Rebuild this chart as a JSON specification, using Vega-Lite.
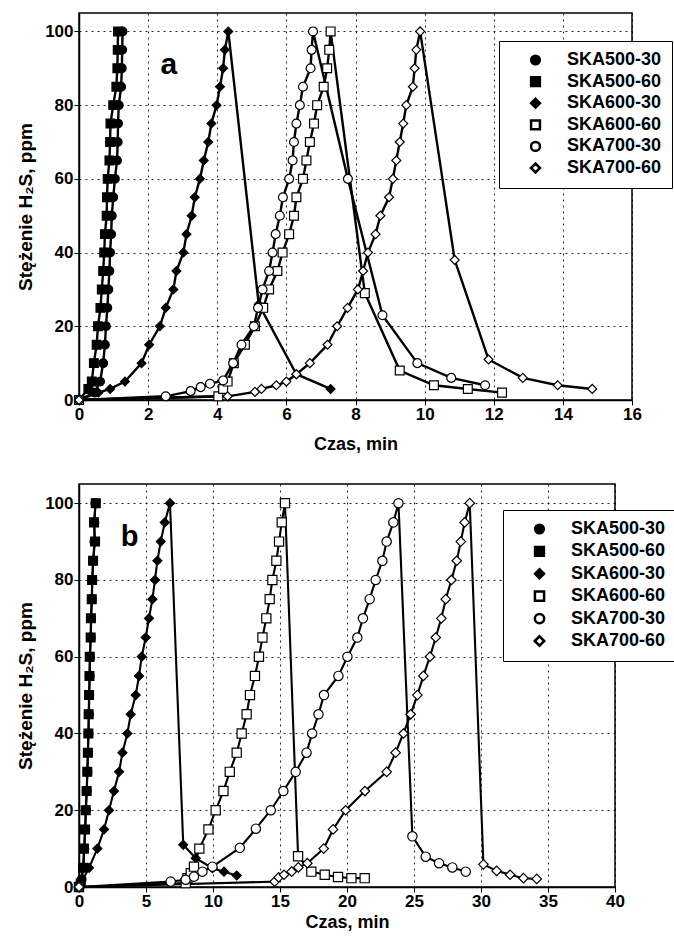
{
  "$schema": "https://vega.github.io/schema/vega-lite/v6.json",
  "background": "white",
  "padding": {"left": 15, "top": 12, "right": 0, "bottom": 5},
  "spacing": 29,
  "config": {
    "font": "Liberation Sans",
    "view": {"stroke": "black", "strokeWidth": 1.5},
    "axis": {
      "labelFont": "Liberation Sans", "labelFontSize": 17, "labelFontWeight": "bold", "labelColor": "black", "labelFlush": false,
      "titleFont": "Liberation Sans", "titleFontSize": 18, "titleFontWeight": "bold", "titleColor": "black",
      "domainColor": "black", "domainWidth": 1.5, "tickColor": "black", "tickSize": 5,
      "gridColor": "black", "gridDash": [2, 4], "gridOpacity": 0.85, "gridWidth": 1, "labelPadding": 1
    },
    "axisY": {"titleFontSize": 19},
    "legend": {
      "labelFont": "Liberation Sans", "labelFontSize": 18, "labelFontWeight": "bold", "labelColor": "black",
      "fillColor": "white", "strokeColor": "black", "padding": 10, "rowPadding": 2,
      "symbolOffset": 17.5, "labelOffset": 22.5
    }
  },
  "datasets": {
    "a": [
      {"s": "SKA500-30", "x": 0, "y": 0}, {"s": "SKA500-30", "x": 0.45, "y": 2}, {"s": "SKA500-30", "x": 0.61, "y": 5}, {"s": "SKA500-30", "x": 0.70, "y": 10}, {"s": "SKA500-30", "x": 0.75, "y": 15}, {"s": "SKA500-30", "x": 0.78, "y": 20}, {"s": "SKA500-30", "x": 0.82, "y": 25}, {"s": "SKA500-30", "x": 0.85, "y": 30}, {"s": "SKA500-30", "x": 0.88, "y": 35}, {"s": "SKA500-30", "x": 0.90, "y": 40}, {"s": "SKA500-30", "x": 0.93, "y": 45}, {"s": "SKA500-30", "x": 0.95, "y": 50}, {"s": "SKA500-30", "x": 0.99, "y": 55}, {"s": "SKA500-30", "x": 1.04, "y": 60}, {"s": "SKA500-30", "x": 1.10, "y": 65}, {"s": "SKA500-30", "x": 1.12, "y": 70}, {"s": "SKA500-30", "x": 1.13, "y": 75}, {"s": "SKA500-30", "x": 1.15, "y": 80}, {"s": "SKA500-30", "x": 1.22, "y": 85}, {"s": "SKA500-30", "x": 1.24, "y": 90}, {"s": "SKA500-30", "x": 1.25, "y": 95}, {"s": "SKA500-30", "x": 1.26, "y": 100},
      {"s": "SKA500-60", "x": 0, "y": 0}, {"s": "SKA500-60", "x": 0.27, "y": 3}, {"s": "SKA500-60", "x": 0.37, "y": 5}, {"s": "SKA500-60", "x": 0.43, "y": 10}, {"s": "SKA500-60", "x": 0.51, "y": 15}, {"s": "SKA500-60", "x": 0.55, "y": 20}, {"s": "SKA500-60", "x": 0.62, "y": 25}, {"s": "SKA500-60", "x": 0.66, "y": 30}, {"s": "SKA500-60", "x": 0.70, "y": 35}, {"s": "SKA500-60", "x": 0.73, "y": 40}, {"s": "SKA500-60", "x": 0.75, "y": 45}, {"s": "SKA500-60", "x": 0.80, "y": 50}, {"s": "SKA500-60", "x": 0.81, "y": 55}, {"s": "SKA500-60", "x": 0.83, "y": 60}, {"s": "SKA500-60", "x": 0.88, "y": 65}, {"s": "SKA500-60", "x": 0.90, "y": 70}, {"s": "SKA500-60", "x": 0.91, "y": 75}, {"s": "SKA500-60", "x": 0.99, "y": 80}, {"s": "SKA500-60", "x": 1.08, "y": 85}, {"s": "SKA500-60", "x": 1.11, "y": 90}, {"s": "SKA500-60", "x": 1.12, "y": 95}, {"s": "SKA500-60", "x": 1.13, "y": 100},
      {"s": "SKA600-30", "x": 0, "y": 0}, {"s": "SKA600-30", "x": 0.56, "y": 2}, {"s": "SKA600-30", "x": 0.9, "y": 3}, {"s": "SKA600-30", "x": 1.33, "y": 5}, {"s": "SKA600-30", "x": 1.81, "y": 10}, {"s": "SKA600-30", "x": 2.03, "y": 15}, {"s": "SKA600-30", "x": 2.34, "y": 20}, {"s": "SKA600-30", "x": 2.51, "y": 25}, {"s": "SKA600-30", "x": 2.73, "y": 30}, {"s": "SKA600-30", "x": 2.82, "y": 35}, {"s": "SKA600-30", "x": 3.02, "y": 40}, {"s": "SKA600-30", "x": 3.11, "y": 45}, {"s": "SKA600-30", "x": 3.26, "y": 50}, {"s": "SKA600-30", "x": 3.35, "y": 55}, {"s": "SKA600-30", "x": 3.50, "y": 60}, {"s": "SKA600-30", "x": 3.61, "y": 65}, {"s": "SKA600-30", "x": 3.74, "y": 70}, {"s": "SKA600-30", "x": 3.83, "y": 75}, {"s": "SKA600-30", "x": 3.98, "y": 80}, {"s": "SKA600-30", "x": 4.08, "y": 85}, {"s": "SKA600-30", "x": 4.17, "y": 90}, {"s": "SKA600-30", "x": 4.22, "y": 95}, {"s": "SKA600-30", "x": 4.32, "y": 100}, {"s": "SKA600-30", "x": 5.2, "y": 26}, {"s": "SKA600-30", "x": 6.29, "y": 7}, {"s": "SKA600-30", "x": 7.28, "y": 3},
      {"s": "SKA600-60", "x": 0, "y": 0}, {"s": "SKA600-60", "x": 4.03, "y": 1}, {"s": "SKA600-60", "x": 4.17, "y": 3}, {"s": "SKA600-60", "x": 4.30, "y": 5}, {"s": "SKA600-60", "x": 4.48, "y": 10}, {"s": "SKA600-60", "x": 4.80, "y": 15}, {"s": "SKA600-60", "x": 5.09, "y": 20}, {"s": "SKA600-60", "x": 5.33, "y": 25}, {"s": "SKA600-60", "x": 5.50, "y": 30}, {"s": "SKA600-60", "x": 5.74, "y": 35}, {"s": "SKA600-60", "x": 5.89, "y": 40}, {"s": "SKA600-60", "x": 6.08, "y": 45}, {"s": "SKA600-60", "x": 6.22, "y": 50}, {"s": "SKA600-60", "x": 6.29, "y": 55}, {"s": "SKA600-60", "x": 6.48, "y": 60}, {"s": "SKA600-60", "x": 6.58, "y": 65}, {"s": "SKA600-60", "x": 6.68, "y": 70}, {"s": "SKA600-60", "x": 6.80, "y": 75}, {"s": "SKA600-60", "x": 6.89, "y": 80}, {"s": "SKA600-60", "x": 7.08, "y": 85}, {"s": "SKA600-60", "x": 7.18, "y": 90}, {"s": "SKA600-60", "x": 7.24, "y": 95}, {"s": "SKA600-60", "x": 7.28, "y": 100}, {"s": "SKA600-60", "x": 8.27, "y": 29}, {"s": "SKA600-60", "x": 9.28, "y": 8}, {"s": "SKA600-60", "x": 10.27, "y": 4}, {"s": "SKA600-60", "x": 11.25, "y": 3}, {"s": "SKA600-60", "x": 12.24, "y": 2},
      {"s": "SKA700-30", "x": 0, "y": 0}, {"s": "SKA700-30", "x": 2.51, "y": 1}, {"s": "SKA700-30", "x": 3.23, "y": 2.4}, {"s": "SKA700-30", "x": 3.52, "y": 3.5}, {"s": "SKA700-30", "x": 3.79, "y": 4.4}, {"s": "SKA700-30", "x": 4.17, "y": 5.3}, {"s": "SKA700-30", "x": 4.46, "y": 10}, {"s": "SKA700-30", "x": 4.70, "y": 15}, {"s": "SKA700-30", "x": 5.06, "y": 20}, {"s": "SKA700-30", "x": 5.18, "y": 25}, {"s": "SKA700-30", "x": 5.31, "y": 30}, {"s": "SKA700-30", "x": 5.50, "y": 35}, {"s": "SKA700-30", "x": 5.60, "y": 40}, {"s": "SKA700-30", "x": 5.69, "y": 45}, {"s": "SKA700-30", "x": 5.81, "y": 50}, {"s": "SKA700-30", "x": 5.90, "y": 55}, {"s": "SKA700-30", "x": 6.08, "y": 60}, {"s": "SKA700-30", "x": 6.18, "y": 65}, {"s": "SKA700-30", "x": 6.22, "y": 70}, {"s": "SKA700-30", "x": 6.29, "y": 75}, {"s": "SKA700-30", "x": 6.39, "y": 80}, {"s": "SKA700-30", "x": 6.48, "y": 85}, {"s": "SKA700-30", "x": 6.70, "y": 90}, {"s": "SKA700-30", "x": 6.73, "y": 95}, {"s": "SKA700-30", "x": 6.77, "y": 100}, {"s": "SKA700-30", "x": 7.78, "y": 60}, {"s": "SKA700-30", "x": 8.78, "y": 23}, {"s": "SKA700-30", "x": 9.79, "y": 10}, {"s": "SKA700-30", "x": 10.77, "y": 6}, {"s": "SKA700-30", "x": 11.75, "y": 4},
      {"s": "SKA700-60", "x": 0, "y": 0}, {"s": "SKA700-60", "x": 4.30, "y": 1}, {"s": "SKA700-60", "x": 5.09, "y": 2.2}, {"s": "SKA700-60", "x": 5.28, "y": 3}, {"s": "SKA700-60", "x": 5.71, "y": 4}, {"s": "SKA700-60", "x": 6.0, "y": 5}, {"s": "SKA700-60", "x": 6.29, "y": 7}, {"s": "SKA700-60", "x": 6.68, "y": 10}, {"s": "SKA700-60", "x": 7.19, "y": 15}, {"s": "SKA700-60", "x": 7.47, "y": 20}, {"s": "SKA700-60", "x": 7.77, "y": 25}, {"s": "SKA700-60", "x": 8.07, "y": 30}, {"s": "SKA700-60", "x": 8.22, "y": 35}, {"s": "SKA700-60", "x": 8.36, "y": 40}, {"s": "SKA700-60", "x": 8.58, "y": 45}, {"s": "SKA700-60", "x": 8.72, "y": 50}, {"s": "SKA700-60", "x": 8.97, "y": 55}, {"s": "SKA700-60", "x": 9.08, "y": 60}, {"s": "SKA700-60", "x": 9.18, "y": 65}, {"s": "SKA700-60", "x": 9.28, "y": 70}, {"s": "SKA700-60", "x": 9.38, "y": 75}, {"s": "SKA700-60", "x": 9.47, "y": 80}, {"s": "SKA700-60", "x": 9.66, "y": 85}, {"s": "SKA700-60", "x": 9.71, "y": 90}, {"s": "SKA700-60", "x": 9.76, "y": 95}, {"s": "SKA700-60", "x": 9.87, "y": 100}, {"s": "SKA700-60", "x": 10.87, "y": 38}, {"s": "SKA700-60", "x": 11.85, "y": 11}, {"s": "SKA700-60", "x": 12.84, "y": 6}, {"s": "SKA700-60", "x": 13.85, "y": 4}, {"s": "SKA700-60", "x": 14.85, "y": 3}
    ],
    "b": [
      {"s": "SKA500-30", "x": 0, "y": 0}, {"s": "SKA500-30", "x": 0.2, "y": 2}, {"s": "SKA500-30", "x": 0.33, "y": 5}, {"s": "SKA500-30", "x": 0.40, "y": 10}, {"s": "SKA500-30", "x": 0.47, "y": 15}, {"s": "SKA500-30", "x": 0.52, "y": 20}, {"s": "SKA500-30", "x": 0.58, "y": 25}, {"s": "SKA500-30", "x": 0.63, "y": 30}, {"s": "SKA500-30", "x": 0.67, "y": 35}, {"s": "SKA500-30", "x": 0.71, "y": 40}, {"s": "SKA500-30", "x": 0.74, "y": 45}, {"s": "SKA500-30", "x": 0.77, "y": 50}, {"s": "SKA500-30", "x": 0.80, "y": 55}, {"s": "SKA500-30", "x": 0.83, "y": 60}, {"s": "SKA500-30", "x": 0.88, "y": 65}, {"s": "SKA500-30", "x": 0.91, "y": 70}, {"s": "SKA500-30", "x": 0.96, "y": 75}, {"s": "SKA500-30", "x": 1.0, "y": 80}, {"s": "SKA500-30", "x": 1.06, "y": 85}, {"s": "SKA500-30", "x": 1.15, "y": 90}, {"s": "SKA500-30", "x": 1.15, "y": 95}, {"s": "SKA500-30", "x": 1.22, "y": 100},
      {"s": "SKA500-60", "x": 0, "y": 0}, {"s": "SKA500-60", "x": 0.13, "y": 1}, {"s": "SKA500-60", "x": 0.30, "y": 5}, {"s": "SKA500-60", "x": 0.37, "y": 10}, {"s": "SKA500-60", "x": 0.45, "y": 15}, {"s": "SKA500-60", "x": 0.50, "y": 20}, {"s": "SKA500-60", "x": 0.57, "y": 25}, {"s": "SKA500-60", "x": 0.62, "y": 30}, {"s": "SKA500-60", "x": 0.66, "y": 35}, {"s": "SKA500-60", "x": 0.70, "y": 40}, {"s": "SKA500-60", "x": 0.72, "y": 45}, {"s": "SKA500-60", "x": 0.75, "y": 50}, {"s": "SKA500-60", "x": 0.78, "y": 55}, {"s": "SKA500-60", "x": 0.80, "y": 60}, {"s": "SKA500-60", "x": 0.87, "y": 65}, {"s": "SKA500-60", "x": 0.89, "y": 70}, {"s": "SKA500-60", "x": 0.95, "y": 75}, {"s": "SKA500-60", "x": 0.98, "y": 80}, {"s": "SKA500-60", "x": 1.05, "y": 85}, {"s": "SKA500-60", "x": 1.20, "y": 90}, {"s": "SKA500-60", "x": 1.12, "y": 95}, {"s": "SKA500-60", "x": 1.25, "y": 100},
      {"s": "SKA600-30", "x": 0, "y": 0}, {"s": "SKA600-30", "x": 0.75, "y": 5}, {"s": "SKA600-30", "x": 1.37, "y": 10}, {"s": "SKA600-30", "x": 1.87, "y": 15}, {"s": "SKA600-30", "x": 2.24, "y": 20}, {"s": "SKA600-30", "x": 2.61, "y": 25}, {"s": "SKA600-30", "x": 2.99, "y": 30}, {"s": "SKA600-30", "x": 3.24, "y": 35}, {"s": "SKA600-30", "x": 3.61, "y": 40}, {"s": "SKA600-30", "x": 3.86, "y": 45}, {"s": "SKA600-30", "x": 4.23, "y": 50}, {"s": "SKA600-30", "x": 4.48, "y": 55}, {"s": "SKA600-30", "x": 4.68, "y": 60}, {"s": "SKA600-30", "x": 4.98, "y": 65}, {"s": "SKA600-30", "x": 5.22, "y": 70}, {"s": "SKA600-30", "x": 5.48, "y": 75}, {"s": "SKA600-30", "x": 5.67, "y": 80}, {"s": "SKA600-30", "x": 5.85, "y": 85}, {"s": "SKA600-30", "x": 6.10, "y": 90}, {"s": "SKA600-30", "x": 6.40, "y": 95}, {"s": "SKA600-30", "x": 6.79, "y": 100}, {"s": "SKA600-30", "x": 7.78, "y": 11}, {"s": "SKA600-30", "x": 8.71, "y": 7.5}, {"s": "SKA600-30", "x": 9.96, "y": 4.9}, {"s": "SKA600-30", "x": 10.82, "y": 4}, {"s": "SKA600-30", "x": 11.77, "y": 3},
      {"s": "SKA600-60", "x": 0, "y": 0}, {"s": "SKA600-60", "x": 7.96, "y": 1}, {"s": "SKA600-60", "x": 8.09, "y": 2.3}, {"s": "SKA600-60", "x": 8.34, "y": 3.6}, {"s": "SKA600-60", "x": 8.58, "y": 5.3}, {"s": "SKA600-60", "x": 8.98, "y": 10}, {"s": "SKA600-60", "x": 9.66, "y": 15}, {"s": "SKA600-60", "x": 10.20, "y": 20}, {"s": "SKA600-60", "x": 10.78, "y": 25}, {"s": "SKA600-60", "x": 11.25, "y": 30}, {"s": "SKA600-60", "x": 11.77, "y": 35}, {"s": "SKA600-60", "x": 12.14, "y": 40}, {"s": "SKA600-60", "x": 12.51, "y": 45}, {"s": "SKA600-60", "x": 12.76, "y": 50}, {"s": "SKA600-60", "x": 13.13, "y": 55}, {"s": "SKA600-60", "x": 13.43, "y": 60}, {"s": "SKA600-60", "x": 13.69, "y": 65}, {"s": "SKA600-60", "x": 13.98, "y": 70}, {"s": "SKA600-60", "x": 14.23, "y": 75}, {"s": "SKA600-60", "x": 14.43, "y": 80}, {"s": "SKA600-60", "x": 14.73, "y": 85}, {"s": "SKA600-60", "x": 14.93, "y": 90}, {"s": "SKA600-60", "x": 15.13, "y": 95}, {"s": "SKA600-60", "x": 15.37, "y": 100}, {"s": "SKA600-60", "x": 16.35, "y": 8}, {"s": "SKA600-60", "x": 17.34, "y": 4}, {"s": "SKA600-60", "x": 18.34, "y": 3.2}, {"s": "SKA600-60", "x": 19.33, "y": 2.6}, {"s": "SKA600-60", "x": 20.33, "y": 2.3}, {"s": "SKA600-60", "x": 21.32, "y": 2.3},
      {"s": "SKA700-30", "x": 0, "y": 0}, {"s": "SKA700-30", "x": 6.84, "y": 1.4}, {"s": "SKA700-30", "x": 7.96, "y": 1.9}, {"s": "SKA700-30", "x": 8.58, "y": 2.7}, {"s": "SKA700-30", "x": 9.21, "y": 4.0}, {"s": "SKA700-30", "x": 9.96, "y": 5.3}, {"s": "SKA700-30", "x": 12.0, "y": 10.2}, {"s": "SKA700-30", "x": 13.2, "y": 15.2}, {"s": "SKA700-30", "x": 14.31, "y": 20}, {"s": "SKA700-30", "x": 15.25, "y": 25}, {"s": "SKA700-30", "x": 16.17, "y": 30}, {"s": "SKA700-30", "x": 16.98, "y": 35}, {"s": "SKA700-30", "x": 17.4, "y": 40}, {"s": "SKA700-30", "x": 17.87, "y": 45}, {"s": "SKA700-30", "x": 18.28, "y": 50}, {"s": "SKA700-30", "x": 19.36, "y": 55}, {"s": "SKA700-30", "x": 20.03, "y": 60}, {"s": "SKA700-30", "x": 20.77, "y": 65}, {"s": "SKA700-30", "x": 21.19, "y": 70}, {"s": "SKA700-30", "x": 21.69, "y": 75}, {"s": "SKA700-30", "x": 22.14, "y": 80}, {"s": "SKA700-30", "x": 22.64, "y": 85}, {"s": "SKA700-30", "x": 22.96, "y": 90}, {"s": "SKA700-30", "x": 23.46, "y": 95}, {"s": "SKA700-30", "x": 23.84, "y": 100}, {"s": "SKA700-30", "x": 24.88, "y": 13.2}, {"s": "SKA700-30", "x": 25.87, "y": 7.9}, {"s": "SKA700-30", "x": 26.87, "y": 6.2}, {"s": "SKA700-30", "x": 27.86, "y": 5.1}, {"s": "SKA700-30", "x": 28.86, "y": 4.0},
      {"s": "SKA700-60", "x": 0, "y": 0}, {"s": "SKA700-60", "x": 14.6, "y": 1.4}, {"s": "SKA700-60", "x": 14.9, "y": 2.5}, {"s": "SKA700-60", "x": 15.30, "y": 3.2}, {"s": "SKA700-60", "x": 15.87, "y": 4}, {"s": "SKA700-60", "x": 16.37, "y": 5.1}, {"s": "SKA700-60", "x": 17.04, "y": 6.2}, {"s": "SKA700-60", "x": 18.26, "y": 10}, {"s": "SKA700-60", "x": 18.96, "y": 15}, {"s": "SKA700-60", "x": 19.90, "y": 20}, {"s": "SKA700-60", "x": 21.34, "y": 25}, {"s": "SKA700-60", "x": 22.96, "y": 30}, {"s": "SKA700-60", "x": 23.63, "y": 35}, {"s": "SKA700-60", "x": 24.21, "y": 40}, {"s": "SKA700-60", "x": 24.75, "y": 45}, {"s": "SKA700-60", "x": 25.25, "y": 50}, {"s": "SKA700-60", "x": 25.70, "y": 55}, {"s": "SKA700-60", "x": 26.19, "y": 60}, {"s": "SKA700-60", "x": 26.62, "y": 65}, {"s": "SKA700-60", "x": 27.04, "y": 70}, {"s": "SKA700-60", "x": 27.37, "y": 75}, {"s": "SKA700-60", "x": 27.79, "y": 80}, {"s": "SKA700-60", "x": 28.19, "y": 85}, {"s": "SKA700-60", "x": 28.49, "y": 90}, {"s": "SKA700-60", "x": 28.78, "y": 95}, {"s": "SKA700-60", "x": 29.16, "y": 100}, {"s": "SKA700-60", "x": 30.18, "y": 5.9}, {"s": "SKA700-60", "x": 31.17, "y": 4.2}, {"s": "SKA700-60", "x": 32.17, "y": 3.2}, {"s": "SKA700-60", "x": 33.17, "y": 2.3}, {"s": "SKA700-60", "x": 34.16, "y": 2.1}
    ]
  },
  "resolve": {
    "scale": {"x": "independent", "y": "independent", "shape": "independent", "fill": "independent", "size": "independent"},
    "legend": {"shape": "independent", "fill": "independent", "size": "independent"}
  },
  "vconcat": [
    {
      "width": 553, "height": 387,
      "layer": [
        {
          "data": {"name": "a"},
          "mark": {"type": "line", "color": "black", "strokeWidth": 2.4},
          "encoding": {
            "x": {"field": "x", "type": "quantitative", "scale": {"domain": [0, 16], "nice": false}, "axis": {"values": [0, 2, 4, 6, 8, 10, 12, 14, 16], "title": "Czas, min", "titlePadding": 13}},
            "y": {"field": "y", "type": "quantitative", "scale": {"domain": [0, 105], "nice": false}, "axis": {"values": [0, 20, 40, 60, 80, 100], "title": "Stężenie H₂S, ppm", "titlePadding": 9}},
            "detail": {"field": "s"},
            "order": {"value": null}
          }
        },
        {
          "data": {"name": "a"},
          "mark": {"type": "point", "filled": false, "stroke": "black", "strokeWidth": 1.2, "opacity": 1},
          "encoding": {
            "x": {"field": "x", "type": "quantitative"},
            "y": {"field": "y", "type": "quantitative"},
            "shape": {"field": "s", "type": "nominal", "scale": {"domain": ["SKA500-30", "SKA500-60", "SKA600-30", "SKA600-60", "SKA700-30", "SKA700-60"], "range": ["circle", "square", "diamond", "square", "circle", "diamond"]},
              "legend": {"title": null, "orient": "none", "legendX": 420, "legendY": 28, "rowPadding": 1.6,
                "encoding": {"symbols": {
                  "shape": {"condition": [
                    {"test": "datum.value == 'SKA500-30'", "value": "M-5.2,0H5.2M0.9,0A0.9,0.9,0,1,1,-0.9,0A0.9,0.9,0,1,1,0.9,0Z"},
                    {"test": "datum.value == 'SKA500-60'", "value": "M-5.2,0H5.2M-0.9,-0.9H0.9V0.9H-0.9Z"},
                    {"test": "datum.value == 'SKA600-30'", "value": "M-5.2,0H5.2M0,-0.9L0.9,0L0,0.9L-0.9,0Z"},
                    {"test": "datum.value == 'SKA600-60'", "value": "M-5.2,0H-1M1,0H5.2M-1,-1H1V1H-1Z"},
                    {"test": "datum.value == 'SKA700-30'", "value": "M-5.2,0H-0.9M0.9,0H5.2M0.9,0A0.9,0.9,0,1,1,-0.9,0A0.9,0.9,0,1,1,0.9,0Z"}
                  ], "value": "M-5.2,0H-0.6M0.6,0H5.2M0,-0.6L0.6,0L0,0.6L-0.6,0Z"},
                  "fill": {"condition": [{"test": "indexof(['SKA500-30','SKA500-60','SKA600-30'], datum.value) >= 0", "value": "black"}], "value": "white"},
                  "stroke": {"value": "black"}, "strokeWidth": {"value": 2.5}, "size": {"value": 100}, "opacity": {"value": 1}, "fillOpacity": {"value": 1}
                }}}},
            "fill": {"field": "s", "type": "nominal", "scale": {"domain": ["SKA500-30", "SKA500-60", "SKA600-30", "SKA600-60", "SKA700-30", "SKA700-60"], "range": ["black", "black", "black", "white", "white", "white"]},
              "legend": {"title": null, "orient": "none", "legendX": 420, "legendY": 28, "rowPadding": 1.6,
                "encoding": {"symbols": {
                  "shape": {"condition": [
                    {"test": "datum.value == 'SKA500-30'", "value": "M-5.2,0H5.2M0.9,0A0.9,0.9,0,1,1,-0.9,0A0.9,0.9,0,1,1,0.9,0Z"},
                    {"test": "datum.value == 'SKA500-60'", "value": "M-5.2,0H5.2M-0.9,-0.9H0.9V0.9H-0.9Z"},
                    {"test": "datum.value == 'SKA600-30'", "value": "M-5.2,0H5.2M0,-0.9L0.9,0L0,0.9L-0.9,0Z"},
                    {"test": "datum.value == 'SKA600-60'", "value": "M-5.2,0H-1M1,0H5.2M-1,-1H1V1H-1Z"},
                    {"test": "datum.value == 'SKA700-30'", "value": "M-5.2,0H-0.9M0.9,0H5.2M0.9,0A0.9,0.9,0,1,1,-0.9,0A0.9,0.9,0,1,1,0.9,0Z"}
                  ], "value": "M-5.2,0H-0.6M0.6,0H5.2M0,-0.6L0.6,0L0,0.6L-0.6,0Z"},
                  "fill": {"condition": [{"test": "indexof(['SKA500-30','SKA500-60','SKA600-30'], datum.value) >= 0", "value": "black"}], "value": "white"},
                  "stroke": {"value": "black"}, "strokeWidth": {"value": 2.5}, "size": {"value": 100}, "opacity": {"value": 1}, "fillOpacity": {"value": 1}
                }}}},
            "size": {"field": "s", "type": "nominal", "scale": {"domain": ["SKA500-30", "SKA500-60", "SKA600-30", "SKA600-60", "SKA700-30", "SKA700-60"], "range": [75, 80, 55, 100, 110, 28]},
              "legend": {"title": null, "orient": "none", "legendX": 420, "legendY": 28, "rowPadding": 1.6,
                "encoding": {"symbols": {
                  "shape": {"condition": [
                    {"test": "datum.value == 'SKA500-30'", "value": "M-5.2,0H5.2M0.9,0A0.9,0.9,0,1,1,-0.9,0A0.9,0.9,0,1,1,0.9,0Z"},
                    {"test": "datum.value == 'SKA500-60'", "value": "M-5.2,0H5.2M-0.9,-0.9H0.9V0.9H-0.9Z"},
                    {"test": "datum.value == 'SKA600-30'", "value": "M-5.2,0H5.2M0,-0.9L0.9,0L0,0.9L-0.9,0Z"},
                    {"test": "datum.value == 'SKA600-60'", "value": "M-5.2,0H-1M1,0H5.2M-1,-1H1V1H-1Z"},
                    {"test": "datum.value == 'SKA700-30'", "value": "M-5.2,0H-0.9M0.9,0H5.2M0.9,0A0.9,0.9,0,1,1,-0.9,0A0.9,0.9,0,1,1,0.9,0Z"}
                  ], "value": "M-5.2,0H-0.6M0.6,0H5.2M0,-0.6L0.6,0L0,0.6L-0.6,0Z"},
                  "fill": {"condition": [{"test": "indexof(['SKA500-30','SKA500-60','SKA600-30'], datum.value) >= 0", "value": "black"}], "value": "white"},
                  "stroke": {"value": "black"}, "strokeWidth": {"value": 2.5}, "size": {"value": 100}, "opacity": {"value": 1}, "fillOpacity": {"value": 1}
                }}}}
          }
        },
        {
          "data": {"values": [{"x": 2.6, "y": 91, "t": "a"}]},
          "mark": {"type": "text", "font": "Liberation Sans", "fontSize": 30, "fontWeight": "bold", "color": "black", "baseline": "middle", "align": "center"},
          "encoding": {"x": {"field": "x", "type": "quantitative"}, "y": {"field": "y", "type": "quantitative"}, "text": {"field": "t"}}
        }
      ]
    },
    {
      "width": 536, "height": 403,
      "layer": [
        {
          "data": {"name": "b"},
          "mark": {"type": "line", "color": "black", "strokeWidth": 2.1},
          "encoding": {
            "x": {"field": "x", "type": "quantitative", "scale": {"domain": [0, 40], "nice": false}, "axis": {"values": [0, 5, 10, 15, 20, 25, 30, 35, 40], "title": "Czas, min", "titlePadding": 4}},
            "y": {"field": "y", "type": "quantitative", "scale": {"domain": [0, 105], "nice": false}, "axis": {"values": [0, 20, 40, 60, 80, 100], "title": "Stężenie H₂S, ppm", "titlePadding": 9}},
            "detail": {"field": "s"},
            "order": {"value": null}
          }
        },
        {
          "data": {"name": "b"},
          "mark": {"type": "point", "filled": false, "stroke": "black", "strokeWidth": 1.2, "opacity": 1},
          "encoding": {
            "x": {"field": "x", "type": "quantitative"},
            "y": {"field": "y", "type": "quantitative"},
            "shape": {"field": "s", "type": "nominal", "scale": {"domain": ["SKA500-30", "SKA500-60", "SKA600-30", "SKA600-60", "SKA700-30", "SKA700-60"], "range": ["circle", "square", "diamond", "square", "circle", "diamond"]},
              "legend": {"title": null, "orient": "none", "legendX": 424, "legendY": 26, "rowPadding": 2.4,
                "encoding": {"symbols": {
                  "shape": {"condition": [
                    {"test": "datum.value == 'SKA500-30'", "value": "M-5.2,0H5.2M0.9,0A0.9,0.9,0,1,1,-0.9,0A0.9,0.9,0,1,1,0.9,0Z"},
                    {"test": "datum.value == 'SKA500-60'", "value": "M-5.2,0H5.2M-0.9,-0.9H0.9V0.9H-0.9Z"},
                    {"test": "datum.value == 'SKA600-30'", "value": "M-5.2,0H5.2M0,-0.9L0.9,0L0,0.9L-0.9,0Z"},
                    {"test": "datum.value == 'SKA600-60'", "value": "M-5.2,0H-1M1,0H5.2M-1,-1H1V1H-1Z"},
                    {"test": "datum.value == 'SKA700-30'", "value": "M-5.2,0H-0.9M0.9,0H5.2M0.9,0A0.9,0.9,0,1,1,-0.9,0A0.9,0.9,0,1,1,0.9,0Z"}
                  ], "value": "M-5.2,0H-0.6M0.6,0H5.2M0,-0.6L0.6,0L0,0.6L-0.6,0Z"},
                  "fill": {"condition": [{"test": "indexof(['SKA500-30','SKA500-60','SKA600-30'], datum.value) >= 0", "value": "black"}], "value": "white"},
                  "stroke": {"value": "black"}, "strokeWidth": {"value": 2.5}, "size": {"value": 100}, "opacity": {"value": 1}, "fillOpacity": {"value": 1}
                }}}},
            "fill": {"field": "s", "type": "nominal", "scale": {"domain": ["SKA500-30", "SKA500-60", "SKA600-30", "SKA600-60", "SKA700-30", "SKA700-60"], "range": ["black", "black", "black", "white", "white", "white"]},
              "legend": {"title": null, "orient": "none", "legendX": 424, "legendY": 26, "rowPadding": 2.4,
                "encoding": {"symbols": {
                  "shape": {"condition": [
                    {"test": "datum.value == 'SKA500-30'", "value": "M-5.2,0H5.2M0.9,0A0.9,0.9,0,1,1,-0.9,0A0.9,0.9,0,1,1,0.9,0Z"},
                    {"test": "datum.value == 'SKA500-60'", "value": "M-5.2,0H5.2M-0.9,-0.9H0.9V0.9H-0.9Z"},
                    {"test": "datum.value == 'SKA600-30'", "value": "M-5.2,0H5.2M0,-0.9L0.9,0L0,0.9L-0.9,0Z"},
                    {"test": "datum.value == 'SKA600-60'", "value": "M-5.2,0H-1M1,0H5.2M-1,-1H1V1H-1Z"},
                    {"test": "datum.value == 'SKA700-30'", "value": "M-5.2,0H-0.9M0.9,0H5.2M0.9,0A0.9,0.9,0,1,1,-0.9,0A0.9,0.9,0,1,1,0.9,0Z"}
                  ], "value": "M-5.2,0H-0.6M0.6,0H5.2M0,-0.6L0.6,0L0,0.6L-0.6,0Z"},
                  "fill": {"condition": [{"test": "indexof(['SKA500-30','SKA500-60','SKA600-30'], datum.value) >= 0", "value": "black"}], "value": "white"},
                  "stroke": {"value": "black"}, "strokeWidth": {"value": 2.5}, "size": {"value": 100}, "opacity": {"value": 1}, "fillOpacity": {"value": 1}
                }}}},
            "size": {"field": "s", "type": "nominal", "scale": {"domain": ["SKA500-30", "SKA500-60", "SKA600-30", "SKA600-60", "SKA700-30", "SKA700-60"], "range": [75, 90, 55, 100, 110, 28]},
              "legend": {"title": null, "orient": "none", "legendX": 424, "legendY": 26, "rowPadding": 2.4,
                "encoding": {"symbols": {
                  "shape": {"condition": [
                    {"test": "datum.value == 'SKA500-30'", "value": "M-5.2,0H5.2M0.9,0A0.9,0.9,0,1,1,-0.9,0A0.9,0.9,0,1,1,0.9,0Z"},
                    {"test": "datum.value == 'SKA500-60'", "value": "M-5.2,0H5.2M-0.9,-0.9H0.9V0.9H-0.9Z"},
                    {"test": "datum.value == 'SKA600-30'", "value": "M-5.2,0H5.2M0,-0.9L0.9,0L0,0.9L-0.9,0Z"},
                    {"test": "datum.value == 'SKA600-60'", "value": "M-5.2,0H-1M1,0H5.2M-1,-1H1V1H-1Z"},
                    {"test": "datum.value == 'SKA700-30'", "value": "M-5.2,0H-0.9M0.9,0H5.2M0.9,0A0.9,0.9,0,1,1,-0.9,0A0.9,0.9,0,1,1,0.9,0Z"}
                  ], "value": "M-5.2,0H-0.6M0.6,0H5.2M0,-0.6L0.6,0L0,0.6L-0.6,0Z"},
                  "fill": {"condition": [{"test": "indexof(['SKA500-30','SKA500-60','SKA600-30'], datum.value) >= 0", "value": "black"}], "value": "white"},
                  "stroke": {"value": "black"}, "strokeWidth": {"value": 2.5}, "size": {"value": 100}, "opacity": {"value": 1}, "fillOpacity": {"value": 1}
                }}}}
          }
        },
        {
          "data": {"values": [{"x": 3.78, "y": 91.3, "t": "b"}]},
          "mark": {"type": "text", "font": "Liberation Sans", "fontSize": 29, "fontWeight": "bold", "color": "black", "baseline": "middle", "align": "center"},
          "encoding": {"x": {"field": "x", "type": "quantitative"}, "y": {"field": "y", "type": "quantitative"}, "text": {"field": "t"}}
        }
      ]
    }
  ]
}
